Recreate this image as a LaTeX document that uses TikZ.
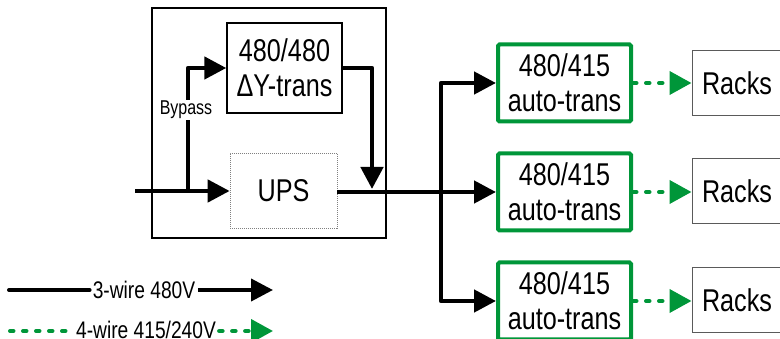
\documentclass[tikz,border=0pt]{standalone}
\usepackage{fontspec}
\setmainfont{Liberation Sans}[FakeStretch=0.8]
\usetikzlibrary{arrows.meta}
\definecolor{grn}{RGB}{0,150,57}
\definecolor{rackgray}{RGB}{90,90,90}
\begin{document}
\begin{tikzpicture}[x=1pt,y=-1pt,
  big/.style={font=\fontsize{31.5}{35}\selectfont, align=center, inner sep=0pt},
  thinbox/.style={draw=black, line width=1.4pt, big},
  upsbox/.style={draw=gray, line width=0.7pt, dash pattern=on 1pt off 1pt, big},
  greenbox/.style={draw=grn, line width=4pt, big, minimum width=133pt, minimum height=77pt, rounded corners=1.5pt},
  rackbox/.style={draw=rackgray, line width=1pt, big, minimum width=110pt, minimum height=65pt, text width=90pt, align=left},
  wire/.style={line width=4.6pt, line join=round, -{Triangle[length=22pt,width=22pt]}},
  plainwire/.style={line width=4.6pt, line join=round},
  gwire/.style={draw=grn, line width=4pt, line cap=round, dash pattern=on 3.5pt off 9.5pt, -{Triangle[length=22pt,width=23pt,fill=grn]}},
  gplain/.style={draw=grn, line width=4pt, line cap=round, dash pattern=on 3.5pt off 9.5pt},
  legend/.style={font=\fontsize{24}{28}\selectfont, inner sep=3pt}
]
\useasboundingbox (0,0) rectangle (780,339);
\clip (0,0) rectangle (780,339);

% outer enclosure
\node[draw=black, line width=1.3pt, minimum width=234pt, minimum height=230pt, inner sep=0pt] (outer) at (269,123) {};

% transformer and UPS
\node[thinbox, minimum width=115pt, minimum height=90pt] (dy) at (284.5,68) {480/480\\ΔY-trans};
\node[upsbox, minimum width=107pt, minimum height=75pt] (ups) at (283.5,190.5) {\raisebox{-3pt}{UPS}};

% auto-transformers
\node[greenbox] (at1) at (564.5,83) {480/415\\auto-trans};
\node[greenbox] (at2) at (564.5,192) {480/415\\auto-trans};
\node[greenbox] (at3) at (564.5,301) {480/415\\auto-trans};

% racks
\node[rackbox] (r1) at (747,83.5) {Racks};
\node[rackbox] (r2) at (747,191) {Racks};
\node[rackbox] (r3) at (747,300.5) {Racks};

% coordinates
\coordinate (in) at (135,191);
\coordinate (bj) at (188,191);
\coordinate (dyin) at (372,189);
\coordinate (bus) at (441,192);

% connectors
\draw[wire] (in) -- (ups.west |- in);
\draw[wire] (bj) |- (dy.west);
\draw[wire] (dy.east) -| (dyin);
\draw[wire] (ups.east |- bus) -- (at2.west);
\draw[wire] (bus) |- (at1.west);
\draw[wire] (bus) |- (at3.west);

\node[font=\fontsize{20}{23}\selectfont, fill=white, inner sep=1.5pt] (bp) at (186,110) {Bypass};

\draw[gwire] (at1.east) -- (r1.west |- at1.east);
\draw[gwire] (at2.east) -- (r2.west |- at2.east);
\draw[gwire] (at3.east) -- (r3.west |- at3.east);

% legend
\node[legend] (l1) at (144,290) {3-wire 480V};
\coordinate (l1a) at (9,290);
\coordinate (l1b) at (273,290);
\draw[plainwire, line width=4pt, line cap=round] (l1a) -- (l1.west);
\draw[wire, line width=4pt] (l1.east) -- (l1b);

\node[legend] (l2) at (146,330) {4-wire 415/240V};
\coordinate (l2a) at (10,331);
\coordinate (l2b) at (273,331);
\draw[gplain] (l2a) -- (l2.west |- l2a);
\draw[gwire] (l2.east |- l2b) -- (l2b);
\end{tikzpicture}
\end{document}
